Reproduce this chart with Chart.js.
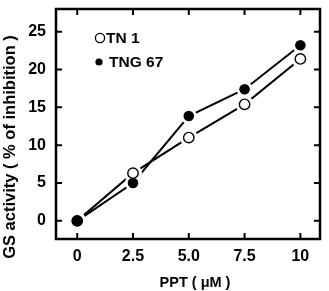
<!DOCTYPE html>
<html>
<head>
<meta charset="utf-8">
<script src="https://cdn.jsdelivr.net/npm/chart.js@4.4.1/dist/chart.umd.min.js"></script>
<style>
  html, body { margin: 0; padding: 0; background: #fff; overflow: hidden; }
  canvas { display: block; }
</style>
</head>
<body>
<canvas id="grafico" width="329" height="291"></canvas>
<script>
// ---------------------------------------------------------------
// Dados
// ---------------------------------------------------------------
const doses   = [0, 2.5, 5.0, 7.5, 10];          // PPT (uM)
const tn1     = [0, 6.3, 11.0, 15.4, 21.4];      // TN 1, círculo aberto
const tng67   = [0, 5.0, 13.85, 17.4, 23.2];     // TNG 67, círculo cheio
const xTicks  = [0, 2.5, 5, 7.5, 10];
const xLabels = ['0', '2.5', '5.0', '7.5', '10'];
const yTicks  = [0, 5, 10, 15, 20, 25];
const seriesNames = ['TN 1', 'TNG 67'];
const xTitle = 'PPT ( μM )';
const yTitle = 'GS activity ( % of inhibition )';

const FONT = '"Liberation Sans", Arial, sans-serif';
const pts = (ys) => doses.map((x, i) => ({ x, y: ys[i] }));

// moldura, marcas internas, títulos e legenda
const frame = {
  id: 'frame',
  afterDraw(chart) {
    const { ctx, chartArea: a, scales: { x, y } } = chart;
    const L = 6;
    ctx.save();
    ctx.strokeStyle = '#000';
    ctx.lineWidth = 2.5;
    ctx.strokeRect(a.left, a.top, a.right - a.left, a.bottom - a.top);
    ctx.lineWidth = 2;
    ctx.beginPath();
    xTicks.forEach(v => {
      const px = x.getPixelForValue(v);
      ctx.moveTo(px, a.bottom); ctx.lineTo(px, a.bottom - L);
      ctx.moveTo(px, a.top);    ctx.lineTo(px, a.top + L);
    });
    yTicks.forEach(v => {
      const py = y.getPixelForValue(v);
      ctx.moveTo(a.left, py);  ctx.lineTo(a.left + L, py);
      ctx.moveTo(a.right, py); ctx.lineTo(a.right - L, py);
    });
    ctx.stroke();

    ctx.fillStyle = '#000';
    ctx.textBaseline = 'middle';
    ctx.textAlign = 'center';

    // títulos dos eixos
    ctx.font = 'bold 14.5px ' + FONT;
    ctx.fillText(xTitle, (a.left + a.right) / 2 + 7, a.bottom + 44);
    ctx.save();
    ctx.translate(10, (a.top + a.bottom) / 2 + 23);
    ctx.rotate(-Math.PI / 2);
    ctx.font = 'bold 16.5px ' + FONT;
    ctx.fillText(yTitle, 0, 0);
    ctx.restore();

    // legenda
    ctx.textAlign = 'left';
    ctx.font = 'bold 15.5px ' + FONT;
    const lx = a.left + 44, ly = a.top + 29, dy = 24;
    ctx.lineWidth = 1.3;
    ctx.beginPath(); ctx.arc(lx, ly, 4.6, 0, Math.PI * 2); ctx.stroke();
    ctx.fillText(seriesNames[0], lx + 6, ly + 1);
    ctx.beginPath(); ctx.arc(lx - 1, ly + dy, 3.6, 0, Math.PI * 2); ctx.fill();
    ctx.fillText(seriesNames[1], lx + 9, ly + dy + 1);
    ctx.restore();
  }
};

const lineDs = (ys) => ({
  data: pts(ys), showLine: true, borderColor: '#000', borderWidth: 2,
  pointRadius: 0, order: 4, tension: 0
});
const haloDs = (ys, r) => ({
  data: pts(ys), showLine: false, pointRadius: r, pointBackgroundColor: '#fff',
  pointBorderWidth: 0, order: 3
});

new Chart(document.getElementById('grafico'), {
  type: 'scatter',
  data: {
    datasets: [
      lineDs(tn1),
      lineDs(tng67),
      haloDs(tn1, 9),
      haloDs(tng67, 8),
      { data: pts(tn1), pointRadius: 5.2, pointBackgroundColor: '#fff',
        pointBorderColor: '#000', pointBorderWidth: 1.4, order: 2 },
      { data: pts(tng67), pointRadius: 5.3, pointBackgroundColor: '#000',
        pointBorderColor: '#000', pointBorderWidth: 0, order: 1 },
    ]
  },
  options: {
    responsive: false,
    animation: false,
    devicePixelRatio: 1,
    layout: { padding: { left: 0, right: 5, top: 7, bottom: 0 } },
    plugins: { legend: { display: false }, tooltip: { enabled: false } },
    scales: {
      x: {
        type: 'linear', min: -0.95, max: 10.88,
        grid: { display: false, drawTicks: false }, border: { display: false },
        afterBuildTicks: s => { s.ticks = xTicks.map(v => ({ value: v })); },
        afterFit: s => { s.height = 52; },
        afterUpdate: s => { s.paddingLeft = 0; s.paddingRight = 0; },
        ticks: {
          color: '#000', padding: 8, maxRotation: 0, autoSkip: false,
          font: { family: FONT, size: 16, weight: 'bold' },
          callback: (v) => xLabels[xTicks.indexOf(v)]
        }
      },
      y: {
        min: -2.4, max: 28.0,
        grid: { display: false, drawTicks: false }, border: { display: false },
        afterBuildTicks: s => { s.ticks = yTicks.map(v => ({ value: v })); },
        afterFit: s => { s.width = 56; },
        afterUpdate: s => { s.paddingTop = 0; s.paddingBottom = 0; },
        ticks: {
          color: '#000', padding: 10, autoSkip: false,
          font: { family: FONT, size: 16, weight: 'bold' }
        }
      }
    }
  },
  plugins: [frame]
});
</script>
</body>
</html>
